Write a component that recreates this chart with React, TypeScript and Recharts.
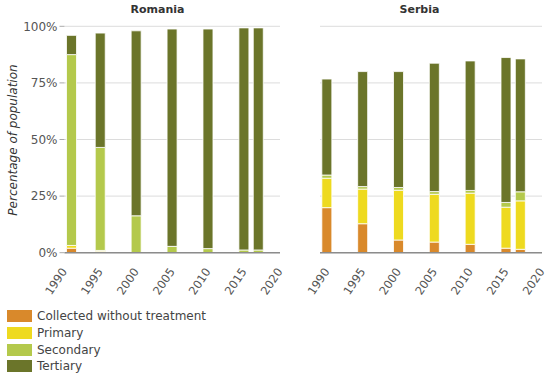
import React from 'react';
import { BarChart, Bar, XAxis, YAxis, CartesianGrid } from 'recharts';

const romaniaYears = [1991, 1995, 2000, 2005, 2010, 2015, 2017];
const romaniaCollected = [2, 0.5, 0, 0, 0, 0, 0];
const romaniaPrimary = [1.2, 0.5, 0, 0, 0, 0, 0];
const romaniaSecondary = [84.3, 45.5, 16.3, 2.8, 1.8, 1.2, 1.2];
const romaniaTertiary = [8.5, 50.5, 81.7, 96, 97, 98.1, 98.1];

const serbiaYears = [1990, 1995, 2000, 2005, 2010, 2015, 2017];
const serbiaCollected = [19.9, 12.8, 5.6, 4.7, 3.7, 2, 1.5];
const serbiaPrimary = [13, 15.3, 22, 21.1, 22.6, 18.1, 21.4];
const serbiaSecondary = [1.4, 1.1, 1.2, 1.2, 1.2, 2.1, 4];
const serbiaTertiary = [42.4, 50.8, 51.2, 56.7, 57.2, 64, 58.7];

const xTicks = [1990, 1995, 2000, 2005, 2010, 2015, 2020];
const yTicks = [0, 25, 50, 75, 100];

const seriesNames = ['Collected without treatment', 'Primary', 'Secondary', 'Tertiary'];
const seriesKeys = ['collected', 'primary', 'secondary', 'tertiary'];
const seriesColors = ['#D9892B', '#EEDA1F', '#B4C94C', '#6B752A'];

const build = (years: number[], a: number[], b: number[], c: number[], d: number[]) =>
  years.map((year, i) => ({ year, collected: a[i], primary: b[i], secondary: c[i], tertiary: d[i] }));

const romaniaData = build(romaniaYears, romaniaCollected, romaniaPrimary, romaniaSecondary, romaniaTertiary);
const serbiaData = build(serbiaYears, serbiaCollected, serbiaPrimary, serbiaSecondary, serbiaTertiary);

const FONT = '"DejaVu Sans", Verdana, sans-serif';
const TEXT = '#555';

const XTick = (props: any) => {
  const { x, payload } = props;
  const ax = x + 3;
  const ay = 271.5;
  return (
    <text
      x={ax}
      y={ay}
      transform={`rotate(-56 ${ax} ${ay})`}
      textAnchor="end"
      fontSize={11.5}
      fontFamily={FONT}
      fill={TEXT}
    >
      {payload.value}
    </text>
  );
};

const renderBars = () =>
  seriesKeys.map((k, i) => (
    <Bar
      key={k}
      dataKey={k}
      name={seriesNames[i]}
      stackId="a"
      fill={seriesColors[i]}
      stroke="#ffffff"
      strokeWidth={0.8}
      barSize={10}
      isAnimationActive={false}
    />
  ));

const Panel = ({ data, showY, left, width, marginLeft, padLeft }: any) => (
  <div style={{ position: 'absolute', left, top: 0 }}>
    <BarChart
      width={width}
      height={305}
      data={data}
      margin={{ top: 26.3, right: showY ? 10 : 8, left: marginLeft, bottom: 0 }}
    >
      <CartesianGrid vertical={false} stroke="#dcdcdc" strokeWidth={1} />
      <XAxis
        dataKey="year"
        type="number"
        domain={[1990, 2020]}
        ticks={xTicks}
        interval={0}
        height={52.3}
        padding={{ left: padLeft, right: 0 }}
        tickLine={false}
        axisLine={{ stroke: '#8c8c8c', strokeWidth: 1.5 }}
        tick={<XTick />}
      />
      <YAxis
        type="number"
        domain={[0, 100]}
        ticks={yTicks}
        hide={!showY}
        width={64.5}
        axisLine={false}
        tickLine={{ stroke: '#aaa' }}
        tickSize={5}
        tickMargin={2}
        tickFormatter={(v: number) => `${v}%`}
        tick={{ fontSize: 12, fontFamily: FONT, fill: TEXT }}
        label={
          showY
            ? {
                content: () => (
                  <text
                    x={13}
                    y={140}
                    transform="rotate(-90 13 140)"
                    textAnchor="middle"
                    dominantBaseline="central"
                    fontSize={12}
                    fontStyle="italic"
                    fontFamily={FONT}
                    fill="#333"
                  >
                    Percentage of population
                  </text>
                ),
              }
            : undefined
        }
      />
      {renderBars()}
    </BarChart>
  </div>
);

export default function App() {
  return (
    <div
      style={{
        position: 'absolute',
        left: 0,
        top: 0,
        width: 550,
        height: 375,
        background: '#fff',
        fontFamily: FONT,
        overflow: 'hidden',
      }}
    >
      <div
        style={{
          position: 'absolute',
          left: 107.5,
          width: 100,
          top: 3,
          textAlign: 'center',
          fontSize: 11,
          fontWeight: 'bold',
          color: '#333',
        }}
      >
        Romania
      </div>
      <div
        style={{
          position: 'absolute',
          left: 369.5,
          width: 100,
          top: 3,
          textAlign: 'center',
          fontSize: 11,
          fontWeight: 'bold',
          color: '#333',
        }}
      >
        Serbia
      </div>
      <Panel data={romaniaData} showY={true} left={0} width={290} marginLeft={0} padLeft={0} />
      <Panel data={serbiaData} showY={false} left={280} width={270} marginLeft={40} padLeft={7} />
      <div style={{ position: 'absolute', left: 7, top: 308 }}>
        {seriesNames.map((n, i) => (
          <div key={n} style={{ display: 'flex', alignItems: 'center', height: 16.7 }}>
            <div style={{ width: 25, height: 12, background: seriesColors[i] }} />
            <span style={{ marginLeft: 5, fontSize: 12, color: '#444', lineHeight: '12px' }}>{n}</span>
          </div>
        ))}
      </div>
    </div>
  );
}
